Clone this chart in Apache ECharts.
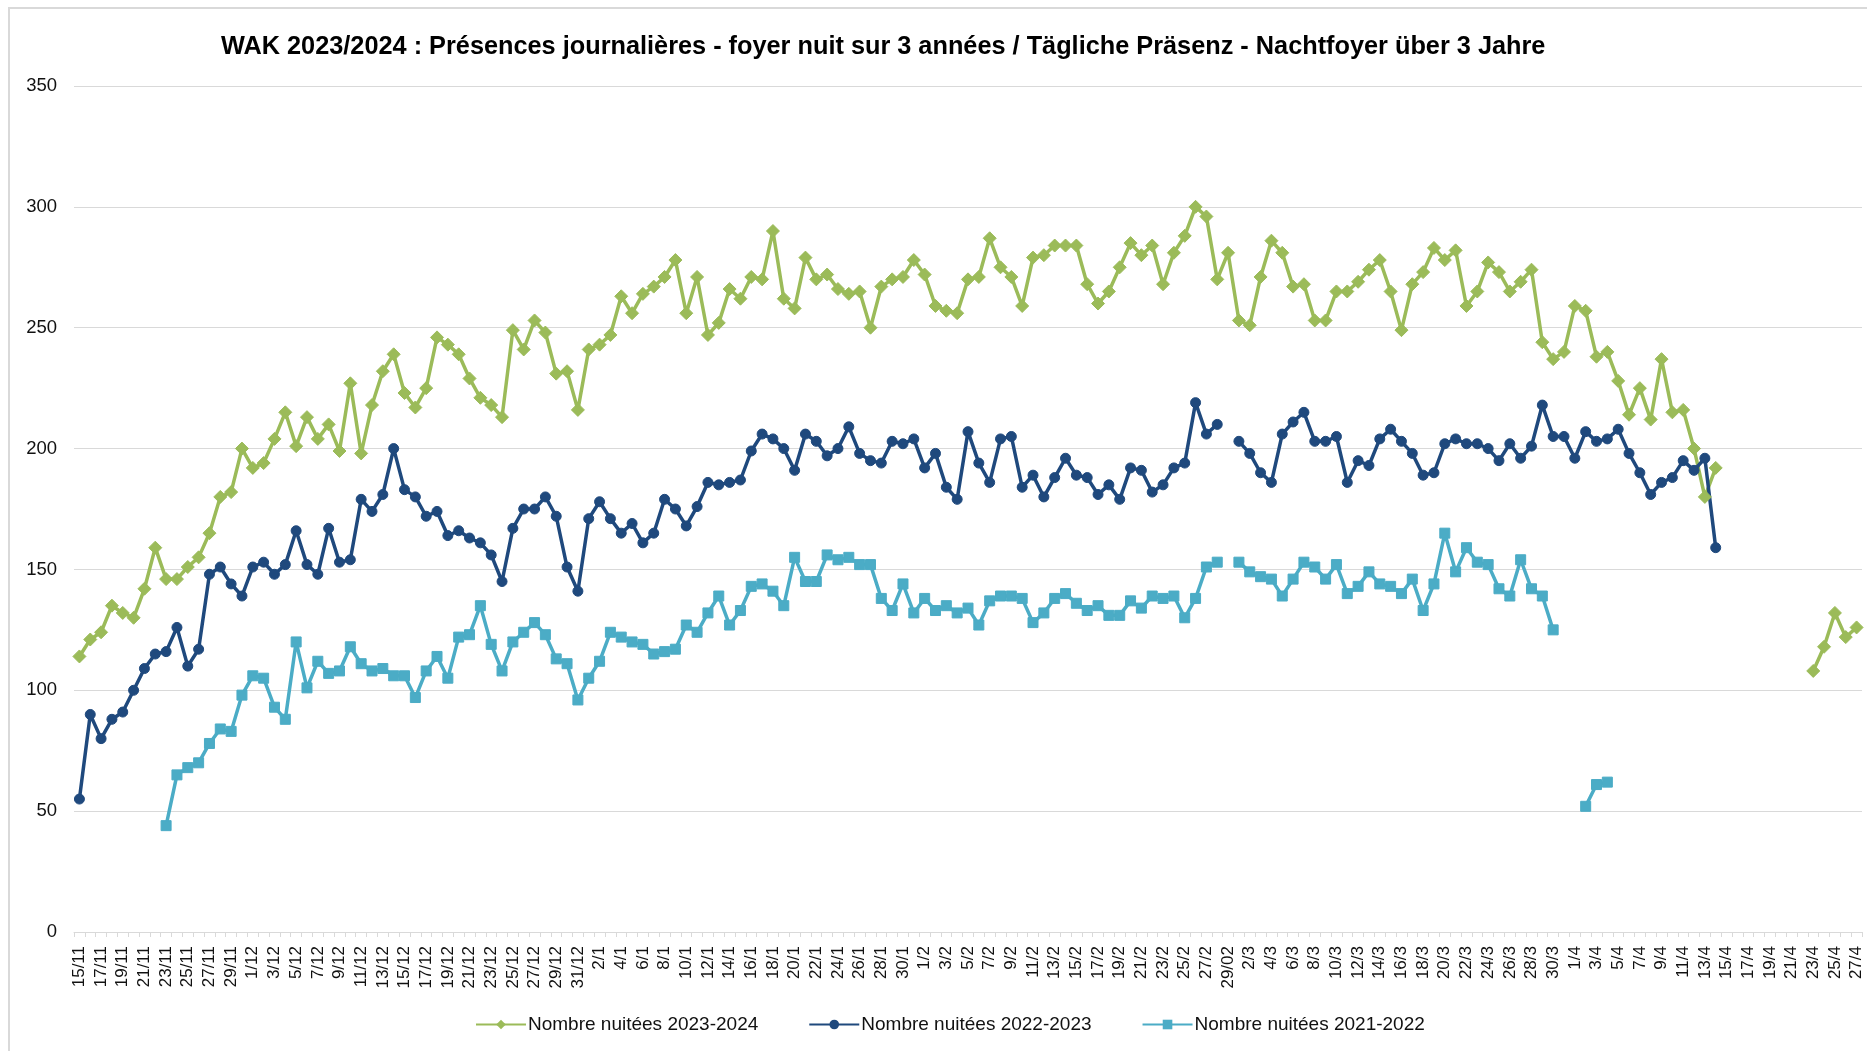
<!DOCTYPE html>
<html>
<head>
<meta charset="utf-8">
<script src="https://cdn.jsdelivr.net/npm/echarts@6/dist/echarts.min.js"></script>
<style>
html,body{margin:0;padding:0;background:#fff;overflow:hidden;}
#frame{position:absolute;left:8px;top:7px;width:2000px;height:1200px;border:2px solid #d9d9d9;box-sizing:border-box;}
#chart{position:absolute;left:0;top:0;width:1867px;height:1051px;}
</style>
</head>
<body>
<div id="frame"></div>
<div id="chart"></div>
<script>
const categories = [
"15/11","16/11","17/11","18/11","19/11","20/11","21/11","22/11","23/11","24/11","25/11","26/11","27/11","28/11","29/11","30/11",
"1/12","2/12","3/12","4/12","5/12","6/12","7/12","8/12","9/12","10/12","11/12","12/12","13/12","14/12","15/12","16/12","17/12","18/12","19/12","20/12","21/12","22/12","23/12","24/12","25/12","26/12","27/12","28/12","29/12","30/12","31/12",
"1/1","2/1","3/1","4/1","5/1","6/1","7/1","8/1","9/1","10/1","11/1","12/1","13/1","14/1","15/1","16/1","17/1","18/1","19/1","20/1","21/1","22/1","23/1","24/1","25/1","26/1","27/1","28/1","29/1","30/1","31/1",
"1/2","2/2","3/2","4/2","5/2","6/2","7/2","8/2","9/2","10/2","11/2","12/2","13/2","14/2","15/2","16/2","17/2","18/2","19/2","20/2","21/2","22/2","23/2","24/2","25/2","26/2","27/2","28/2","29/02",
"1/3","2/3","3/3","4/3","5/3","6/3","7/3","8/3","9/3","10/3","11/3","12/3","13/3","14/3","15/3","16/3","17/3","18/3","19/3","20/3","21/3","22/3","23/3","24/3","25/3","26/3","27/3","28/3","29/3","30/3","31/3",
"1/4","2/4","3/4","4/4","5/4","6/4","7/4","8/4","9/4","10/4","11/4","12/4","13/4","14/4","15/4","16/4","17/4","18/4","19/4","20/4","21/4","22/4","23/4","24/4","25/4","26/4","27/4"
];

const seriesNames = ["Nombre nuitées 2023-2024","Nombre nuitées 2022-2023","Nombre nuitées 2021-2022"];

const nuitees2023_2024 = [
114,121,124,135,132,130,142,159,146,146,
151,155,165,180,182,200,192,194,204,215,
201,213,204,210,199,227,198,218,232,239,
223,217,225,246,243,239,229,221,218,213,
249,241,253,248,231,232,216,241,243,247,
263,256,264,267,271,278,256,271,247,252,
266,262,271,270,290,262,258,279,270,272,
266,264,265,250,267,270,271,278,272,259,
257,256,270,271,287,275,271,259,279,280,
284,284,284,268,260,265,275,285,280,284,
268,281,288,300,296,270,281,253,251,271,
286,281,267,268,253,253,265,265,269,274,
278,265,249,268,273,283,278,282,259,265,
277,273,265,269,274,244,237,240,259,257,
238,240,228,214,225,212,237,215,216,200,
180,192,null,null,null,null,null,null,null,null,
108,118,132,122,126
];

const nuitees2022_2023 = [
55,90,80,88,91,100,109,115,116,126,
110,117,148,151,144,139,151,153,148,152,
166,152,148,167,153,154,179,174,181,200,
183,180,172,174,164,166,163,161,156,145,
167,175,175,180,172,151,141,171,178,171,
165,169,161,165,179,175,168,176,186,185,
186,187,199,206,204,200,191,206,203,197,
200,209,198,195,194,203,202,204,192,198,
184,179,207,194,186,204,205,184,189,180,
188,196,189,188,181,185,179,192,191,182,
185,192,194,219,206,210,null,203,198,190,
186,206,211,215,203,203,205,186,195,193,
204,208,203,198,189,190,202,204,202,202,
200,195,202,196,201,218,205,205,196,207,
203,204,208,198,190,181,186,188,195,191,
196,159,null,null,null,null,null,null,null,null,
null,null,null,null,null
];

const nuitees2021_2022 = [
null,null,null,null,null,null,null,null,44,65,
68,70,78,84,83,98,106,105,93,88,
120,101,112,107,108,118,111,108,109,106,
106,97,108,114,105,122,123,135,119,108,
120,124,128,123,113,111,96,105,112,124,
122,120,119,115,116,117,127,124,132,139,
127,133,143,144,141,135,155,145,145,156,
154,155,152,152,138,133,144,132,138,133,
135,132,134,127,137,139,139,138,128,132,
138,140,136,133,135,131,131,137,134,139,
138,139,130,138,151,153,null,153,149,147,
146,139,146,153,151,146,152,140,143,149,
144,143,140,146,133,144,165,149,159,153,
152,142,139,154,142,139,125,null,null,52,
61,62,null,null,null,null,null,null,null,null,
null,null,null,null,null,null,null,null,null,null,
null,null,null,null,null
];

const yTicks = [0,50,100,150,200,250,300,350];

const FONT = "'Liberation Sans', Arial, sans-serif";
const chart = echarts.init(document.getElementById('chart'), null, {renderer:'canvas'});

function lineSeries(name, data, color, symbol, size){
  return {
    name: name, type: 'line', data: data,
    symbol: symbol, symbolSize: size,
    showAllSymbol: true,
    connectNulls: false,
    lineStyle: {color: color, width: 3.5},
    itemStyle: {color: color, borderColor: color},
    emphasis: {disabled: true},
    z: 3
  };
}

chart.setOption({
  animation: false,
  backgroundColor: 'transparent',
  title: {
    text: 'WAK 2023/2024 : Présences journalières - foyer nuit sur 3 années / Tägliche Präsenz - Nachtfoyer über 3 Jahre',
    left: 221, top: 35, padding: 0,
    textStyle: {fontFamily: FONT, fontSize: 25.3, fontWeight: 'bold', color: '#000'}
  },
  legend: {
    left: 475, top: 1015, padding: 0,
    itemWidth: 50, itemHeight: 12, itemGap: 50,
    textStyle: {fontFamily: FONT, fontSize: 19, color: '#111', padding: [0,0,0,-3]},
    data: seriesNames
  },
  grid: {left: 74, right: 5, top: 86, bottom: 119, containLabel: false},
  xAxis: {
    type: 'category',
    data: categories,
    boundaryGap: true,
    axisLine: {lineStyle: {color: '#d9d9d9', width: 1}},
    axisTick: {show: true, interval: 0, length: 5, lineStyle: {color: '#d9d9d9'}},
    axisLabel: {interval: 1, rotate: 90, margin: 14, fontFamily: FONT, fontSize: 17, color: '#111'},
    splitLine: {show: false}
  },
  yAxis: {
    type: 'value',
    min: yTicks[0], max: yTicks[yTicks.length-1], interval: 50,
    axisLine: {show: false},
    axisTick: {show: false},
    axisLabel: {margin: 17, fontFamily: FONT, fontSize: 18.5, color: '#111'},
    splitLine: {lineStyle: {color: '#d9d9d9', width: 1}}
  },
  series: [
    lineSeries(seriesNames[0], nuitees2023_2024, '#9BBB59', 'diamond', 13),
    lineSeries(seriesNames[1], nuitees2022_2023, '#1F497D', 'circle', 10),
    lineSeries(seriesNames[2], nuitees2021_2022, '#4BACC6', 'rect', 10)
  ]
});
</script>
</body>
</html>
